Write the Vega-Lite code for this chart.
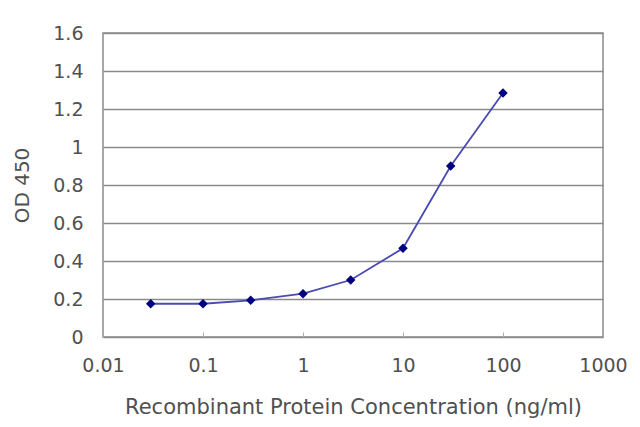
{
  "$schema": "https://vega.github.io/schema/vega-lite/v6.json",
  "width": 500,
  "height": 304,
  "autosize": "none",
  "padding": {"left": 103, "top": 33, "right": 37, "bottom": 90},
  "background": "white",
  "config": {
    "view": {"stroke": "#8a8a8a", "strokeWidth": 1.5},
    "font": "DejaVu Sans",
    "axis": {
      "labelFont": "DejaVu Sans",
      "titleFont": "DejaVu Sans",
      "labelFontSize": 19,
      "titleFontSize": 20,
      "labelColor": "#505050",
      "titleColor": "#505050",
      "titleFontWeight": "normal",
      "domain": false
    }
  },
  "data": {
    "values": [
      {"conc": 0.03, "od": 0.175},
      {"conc": 0.1, "od": 0.175},
      {"conc": 0.3, "od": 0.193},
      {"conc": 1, "od": 0.228},
      {"conc": 3, "od": 0.30},
      {"conc": 10, "od": 0.467},
      {"conc": 30, "od": 0.90},
      {"conc": 100, "od": 1.284}
    ]
  },
  "encoding": {
    "x": {
      "field": "conc",
      "type": "quantitative",
      "title": "Recombinant Protein Concentration (ng/ml)",
      "scale": {"type": "log", "domain": [0.01, 1000], "nice": false},
      "axis": {
        "values": [0.01, 0.1, 1, 10, 100, 1000],
        "labelExpr": "format(datum.value, '~g')",
        "grid": false,
        "tickSize": -5,
        "tickColor": "#aaaaaa",
        "labelPadding": 24,
        "titlePadding": 21,
        "titleFontSize": 21,
        "labelFlush": false
      }
    },
    "y": {
      "field": "od",
      "type": "quantitative",
      "title": "OD 450",
      "scale": {"domain": [0, 1.6], "nice": false},
      "axis": {
        "values": [0, 0.2, 0.4, 0.6, 0.8, 1, 1.2, 1.4, 1.6],
        "labelExpr": "format(datum.value, '~g')",
        "grid": true,
        "gridColor": "#8a8a8a",
        "gridWidth": 1.5,
        "ticks": false,
        "labelPadding": 20,
        "titlePadding": 20
      }
    }
  },
  "layer": [
    {"mark": {"type": "line", "color": "#4a4ab0", "strokeWidth": 1.8}},
    {"mark": {"type": "point", "shape": "diamond", "filled": true, "color": "#000080", "size": 90, "opacity": 1}}
  ]
}
